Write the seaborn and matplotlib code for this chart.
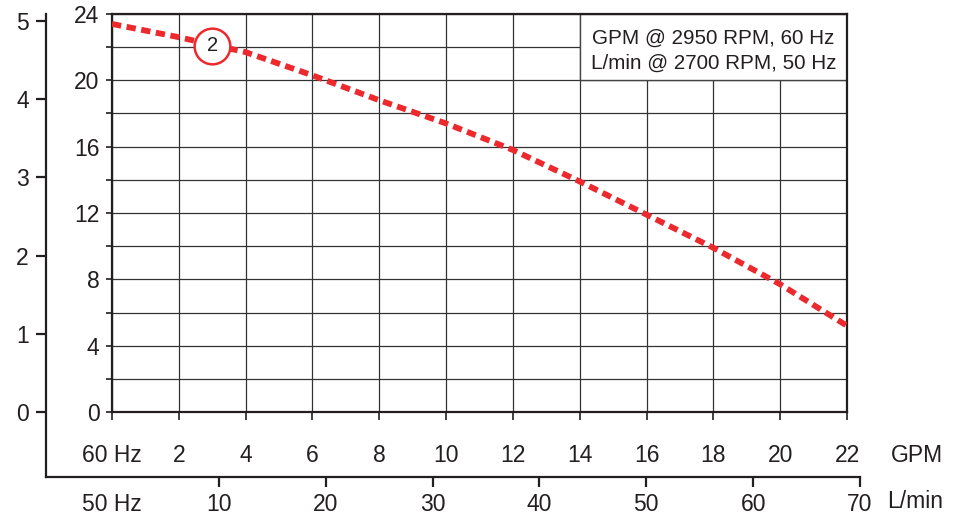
import matplotlib
matplotlib.use("Agg")
import matplotlib.pyplot as plt
import matplotlib.patches as mpatches
import pandas as pd
import seaborn as sns

# pump curve (flow in GPM @ 60 Hz, head in ft)
gpm = [0, 2, 4, 6, 8, 10, 12, 14, 16, 18, 20, 22]
head_ft = [23.4, 22.6, 21.7, 20.3, 18.8, 17.4, 15.8, 13.9, 11.9, 9.9, 7.7, 5.2]

gpm_ticks = [0, 2, 4, 6, 8, 10, 12, 14, 16, 18, 20, 22]
gpm_labels = ["60 Hz", "2", "4", "6", "8", "10", "12", "14", "16", "18", "20", "22"]
lmin_ticks = [0, 10, 20, 30, 40, 50, 60, 70]
lmin_labels = ["50 Hz", "10", "20", "30", "40", "50", "60", "70"]
ft_ticks = [0, 4, 8, 12, 16, 20, 24]
m_ticks = [0, 1, 2, 3, 4, 5]

curve_id = "2"
curve_id_pos = (3, 22.1)
note = "GPM @ 2950 RPM, 60 Hz\nL/min @ 2700 RPM, 50 Hz"

RED = "#ec2a2e"
INK = "#231f20"
W, H = 964, 516
FS = 16.5

sns.set_style("white")
plt.rcParams["font.family"] = ["Liberation Sans", "DejaVu Sans"]
plt.rcParams["text.color"] = INK

fig = plt.figure(figsize=(W / 100, H / 100), dpi=100)


def px_rect(x0, y0, x1, y1):
    return [x0 / W, 1 - y1 / H, (x1 - x0) / W, (y1 - y0) / H]


# outer frame: left scale (0-5) and the L/min axis along the bottom
ax_out = fig.add_axes(px_rect(46, 14, 860, 477))
ax_out.patch.set_visible(False)
ax_out.set_xlim(-6.18, 70)
ax_out.set_ylim(-0.831, 5.09)
for side in ["top", "right"]:
    ax_out.spines[side].set_visible(False)
for side in ["left", "bottom"]:
    ax_out.spines[side].set_linewidth(1.6)
    ax_out.spines[side].set_color(INK)
ax_out.set_yticks(m_ticks)
ax_out.set_xticks(lmin_ticks)
ax_out.set_xticklabels(lmin_labels)
ax_out.tick_params(axis="both", direction="out", length=7.5, width=1.6,
                   color=INK, labelsize=FS, labelcolor=INK,
                   left=True, bottom=True)
ax_out.tick_params(axis="y", pad=5)
ax_out.tick_params(axis="x", pad=4)
ax_out.xaxis.get_major_ticks()[0].tick1line.set_visible(False)

# main chart
ax = fig.add_axes(px_rect(112, 14, 847, 412))
ax.set_xlim(0, 22)
ax.set_ylim(0, 24)
ax.set_xticks(gpm_ticks)
ax.set_xticklabels(gpm_labels)
ax.set_yticks(range(0, 25, 2))
ax.set_yticklabels([str(v) if v in ft_ticks else "" for v in range(0, 25, 2)])
ax.grid(True, color="#333333", linewidth=0.9)
ax.set_axisbelow(True)
for side in ax.spines.values():
    side.set_linewidth(1.6)
    side.set_color(INK)
ax.tick_params(axis="x", direction="out", length=6, width=1.2, color=INK,
               labelsize=FS, pad=17, labelcolor=INK, bottom=True)
ax.tick_params(axis="y", direction="out", length=4, width=1.2, color=INK,
               labelsize=FS, pad=5, labelcolor=INK, left=True)

df = pd.DataFrame({"GPM": gpm, "Head": head_ft})
sns.lineplot(data=df, x="GPM", y="Head", ax=ax, color=RED, linewidth=4.2,
             linestyle=(0, (1.6, 0.95)), zorder=3)
ax.set_xlabel("")
ax.set_ylabel("")

# curve number badge
ax.scatter([curve_id_pos[0]], [curve_id_pos[1]], s=660, facecolor="white",
           edgecolor=RED, linewidth=1.8, zorder=4)
ax.text(curve_id_pos[0], curve_id_pos[1], curve_id, ha="center", va="center",
        fontsize=14.5, zorder=5)

# note box in the upper right corner
ax.add_patch(mpatches.Rectangle((14, 20), 8, 4, facecolor="white",
                                edgecolor="#444444", linewidth=1.0, zorder=2.5))
ax.text(18, 21.8, note, ha="center", va="center", fontsize=14.9,
        linespacing=1.38, zorder=3)

fig.text(917 / W, 1 - 455 / H, "GPM", ha="center", va="center", fontsize=FS)
fig.text(915 / W, 1 - 502 / H, "L/min", ha="center", va="center", fontsize=FS)

fig.savefig("out.png", dpi=100)
